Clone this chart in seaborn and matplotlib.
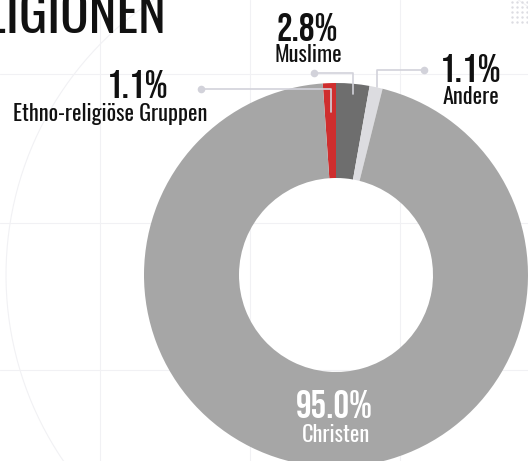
import numpy as np
import matplotlib
matplotlib.use("Agg")
import matplotlib.pyplot as plt
from matplotlib import font_manager as fm
import seaborn as sns

# data
groups = ["Ethno-religiöse Gruppen", "Muslime", "Andere", "Christen"]
shares = [1.1, 2.8, 1.1, 95.0]
colors = ["#cf2e2e", "#6e6e6e", "#dcdce0", "#a6a6a6"]
title = "RELIGIONEN"

sns.set_theme(style="white")
installed = {f.name for f in fm.fontManager.ttflist}
cands = ["Oswald", "Antonio", "Fjalla One", "Pathway Gothic One",
         "Roboto Condensed", "Liberation Sans Narrow"]
font = next((c for c in cands if c in installed), "DejaVu Sans")
num_font = "Bebas Neue" if "Bebas Neue" in installed else font
plt.rcParams['font.family'] = [font, 'DejaVu Sans']

W, H = 528, 461
fig = plt.figure(figsize=(W / 100, H / 100), dpi=100)
ax = fig.add_axes([0, 0, 1, 1])

def Y(y):
    # pixel row -> axes y
    return H - y

# faint background decoration
lc = "#f1f1f4"
for x in [100, 250, 400]:
    ax.plot([x, x], [0, H], color=lc, lw=0.8, zorder=0)
for y in [74, 223, 370]:
    ax.plot([0, W], [Y(y), Y(y)], color=lc, lw=0.8, zorder=0)
t = np.linspace(0, 2 * np.pi, 400)
ax.plot(336 + 330 * np.cos(t), Y(275) + 330 * np.sin(t), color=lc, lw=0.8, zorder=0)
dx, dy = np.meshgrid(np.arange(512, 530, 5), np.arange(2, 26, 5))
ax.scatter(dx.ravel(), Y(dy.ravel()), s=3, color="#dcdce2", lw=0, zorder=0)

# donut
start = 90 + shares[0] * 3.6
ax.pie(shares, colors=colors, startangle=start, counterclock=False,
       center=(336, Y(275)), radius=192,
       wedgeprops=dict(width=95, edgecolor="none"), frame=True)
ax.set_xlim(0, W)
ax.set_ylim(0, H)
ax.set_aspect("equal")
ax.axis("off")

# leader lines
line_c = "#d2d2da"
leaders = [
    [(201, 89), (331, 89), (331, 112)],
    [(314, 73), (353, 73), (353, 94)],
    [(424, 70), (377, 70), (377, 87)],
]
for pts in leaders:
    xs = [p[0] for p in pts]
    ys = [Y(p[1]) for p in pts]
    ax.plot(xs, ys, color=line_c, lw=1.2, zorder=3)
    ax.scatter([xs[0]], [ys[0]], s=30, color=line_c, lw=0, zorder=3)

# labels
pct = [f"{v:.1f}%" for v in shares]
pos = [(138, 84, 110, 114), (307, 27, 308, 55), (471, 68, 471, 97)]
for i, (px, py, lx, ly) in enumerate(pos):
    ax.text(px, Y(py), pct[i], ha="center", va="center", fontsize=28,
            family=num_font, color="#111111")
    ax.text(lx, Y(ly), groups[i], ha="center", va="center", fontsize=16,
            color="#111111")
ax.text(334, Y(404), pct[3], ha="center", va="center", fontsize=28,
        family=num_font, color="white")
ax.text(336, Y(435), groups[3], ha="center", va="center", fontsize=16,
        color="white")

ax.text(167, Y(17), title, ha="right", va="center", fontsize=38,
        color="#111111")

fig.savefig("out.png", dpi=100)
